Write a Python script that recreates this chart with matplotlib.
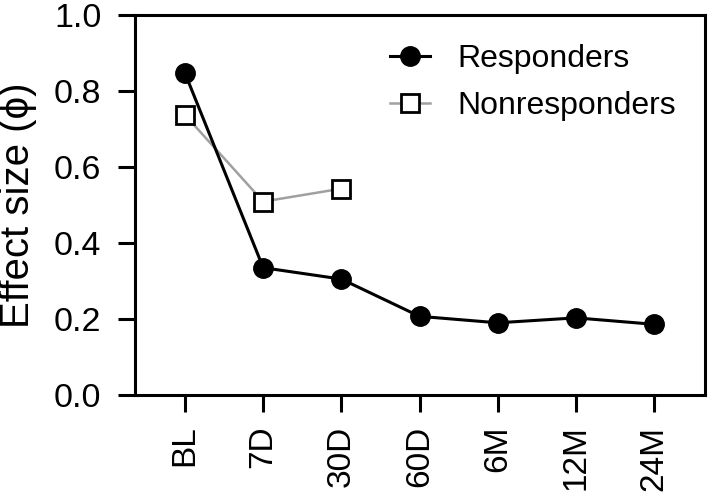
import matplotlib
matplotlib.use("Agg")
import matplotlib.pyplot as plt

categories = ["BL", "7D", "30D", "60D", "6M", "12M", "24M"]
responders = [0.847, 0.335, 0.305, 0.207, 0.190, 0.203, 0.186]
nonresponders = [0.737, 0.509, 0.543]

plt.rcParams['font.family'] = ['Liberation Sans', 'DejaVu Sans']

fig = plt.figure(figsize=(7.08, 4.98), dpi=100)
ax = fig.add_axes([134.7/708, 1 - 395/498, (704.7-134.7)/708, (395-15)/498])

x = list(range(len(categories)))
ax.plot(x, responders, color='black', lw=2.2, marker='o', ms=14,
        mfc='black', mec='black', label='Responders', zorder=3)
ax.plot(x[:len(nonresponders)], nonresponders, color='#a0a0a0', lw=1.8,
        marker='s', ms=13.5, mfc='white', mec='black', mew=2,
        label='Nonresponders', zorder=2)

ax.set_xlim(-0.643, 6.646)
ax.set_ylim(0, 1.0)
ax.set_xticks(x)
ax.set_xticklabels(categories, rotation=90, fontsize=24)
ax.set_yticks([0, 0.2, 0.4, 0.6, 0.8, 1.0])
ax.set_yticklabels(["0.0", "0.2", "0.4", "0.6", "0.8", "1.0"], fontsize=24.5)
ax.tick_params(axis='both', direction='out', length=12, width=2.2)
ax.tick_params(axis='y', pad=12)
ax.tick_params(axis='x', pad=10)
for s in ax.spines.values():
    s.set_linewidth(2.2)

ax.set_ylabel("Effect size (\u03d5)", fontsize=29, labelpad=12)

leg = ax.legend(loc='upper right', frameon=False, fontsize=23,
                handlelength=1.25, handletextpad=0.85, labelspacing=0.54,
                bbox_to_anchor=(1.0, 1.0))

fig.savefig("out.png", dpi=100)
